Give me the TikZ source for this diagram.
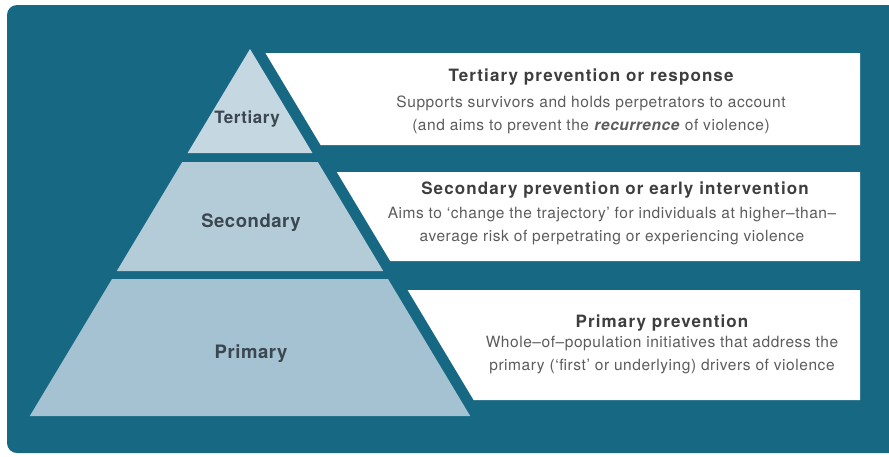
\documentclass[tikz,border=0pt]{standalone}
\usepackage{fontspec}
\setmainfont{TeX Gyre Heros}
\newfontfamily\headfont[LetterSpace=6.5]{TeX Gyre Heros}
\newfontfamily\tierfont[LetterSpace=3]{TeX Gyre Heros}
\newfontfamily\bodyfont[LetterSpace=3.6]{TeX Gyre Heros}

\definecolor{frame}{RGB}{23,104,131}
\definecolor{tierT}{RGB}{197,216,225}
\definecolor{tierS}{RGB}{180,204,215}
\definecolor{tierP}{RGB}{164,194,210}
\definecolor{tierink}{RGB}{58,70,80}
\definecolor{headink}{RGB}{62,62,62}
\definecolor{bodyink}{RGB}{92,92,92}

\begin{document}
\begin{tikzpicture}[
  x=1pt, y=-1pt,
  card/.style      = {fill=white},
  tier/.style      = {inner sep=0pt, anchor=base, text=tierink},
  head/.style      = {inner sep=0pt, anchor=base, text=headink,
                      font=\headfont\bfseries\fontsize{17}{20}\selectfont},
  body/.style      = {inner sep=0pt, anchor=base, text=bodyink, align=center,
                      font=\bodyfont\fontsize{15.5}{23}\selectfont},
]
  \useasboundingbox (0,0) rectangle (889,456);
  \fill[white] (0,0) rectangle (889,456);
  \fill[frame, rounded corners=10pt] (7,5) rectangle (900,453);

  % white cards, left side parallel to the pyramid
  \fill[card] (265.4,53)  -- (860,53)  -- (860,145) -- (320.6,145) -- cycle;
  \fill[card] (336.8,172) -- (860,172) -- (860,261) -- (390.2,261) -- cycle;
  \fill[card] (407.6,290) -- (860,290) -- (860,400) -- (473.6,400) -- cycle;

  % pyramid
  \fill[tierT] (250,49) -- (312.4,153) -- (187.6,153) -- cycle;
  \fill[tierS] (182.2,162) -- (317.8,162) -- (383.2,271) -- (116.8,271) -- cycle;
  \fill[tierP] (112,279) -- (388,279) -- (470.2,416) -- (29.8,416) -- cycle;

  \node[tier, font=\tierfont\bfseries\fontsize{17}{20}\selectfont] (tertLbl) at (247,123) {Tertiary};
  \node[tier, font=\tierfont\bfseries\fontsize{18.5}{20}\selectfont] (secLbl)  at (251,227) {Secondary};
  \node[tier, font=\tierfont\bfseries\fontsize{18.5}{20}\selectfont] (primLbl) at (251,358) {Primary};

  % body nodes sit on the baseline of their last line
  \node[head] (tertHead) at (591,81)  {Tertiary prevention or response};
  \node[body] (tertBody) at (591,130) {Supports survivors and holds perpetrators to account\\
    (and aims to prevent the \textbf{\textit{recurrence}} of violence)};

  \node[head] (secHead) at (615,194) {Secondary prevention or early intervention};
  \node[body] (secBody) at (612,241) {Aims to ‘change the trajectory’ for individuals at higher–than–\\
    average risk of perpetrating or experiencing violence};

  \node[head] (primHead) at (662,327) {Primary prevention};
  \node[body] (primBody) at (662,370) {Whole–of–population initiatives that address the\\
    primary (‘first’ or underlying) drivers of violence};
\end{tikzpicture}
\end{document}
